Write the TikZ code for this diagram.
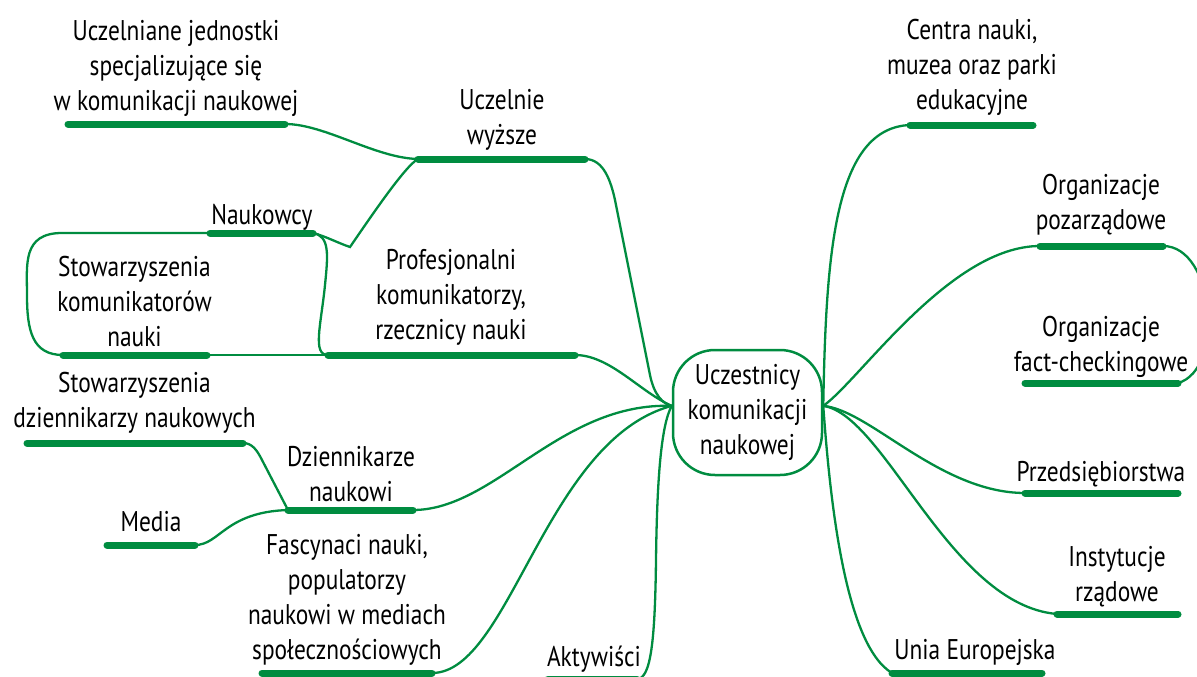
\documentclass[tikz,border=0pt]{standalone}
\usepackage{fontspec}
\setmainfont{PT Sans}[FakeStretch=0.82]
\definecolor{mmgreen}{RGB}{0,140,64}
\begin{document}
\begin{tikzpicture}[x=1pt,y=-1pt,
  bar/.style={line width=7pt,line cap=round,draw=mmgreen},
  link/.style={line width=2.3pt,draw=mmgreen},
  lbl/.style={anchor=south,inner sep=0pt,align=center,font=\fontsize{28.5}{35}\selectfont,execute at end node=\strut},
  hub/.style={draw=mmgreen,line width=2.5pt,rounded corners=42pt,minimum width=149pt,minimum height=125pt,inner sep=0pt,align=center,font=\fontsize{28.5}{35}\selectfont}]
\useasboundingbox (0,0) rectangle (1197,677);
\clip (0,0) rectangle (1197,677);

% hub
\node[hub] (c) at (747.5,412.5) {Uczestnicy\\komunikacji\\naukowej};

% bar end coordinates
\coordinate (jednL) at (68,124);   \coordinate (jednR) at (285,124);
\coordinate (uczL) at (418,159);   \coordinate (uczR) at (585,159);
\coordinate (naukL) at (210,233);  \coordinate (naukR) at (313,233);
\coordinate (skomL) at (63,355);   \coordinate (skomR) at (207,355);
\coordinate (profL) at (328,355);  \coordinate (profR) at (575,355);
\coordinate (sdzL) at (27,443);    \coordinate (sdzR) at (243,443);
\coordinate (dzL) at (288,510);    \coordinate (dzR) at (413,510);
\coordinate (mediaL) at (107,545); \coordinate (mediaR) at (195,545);
\coordinate (fascL) at (262,673);  \coordinate (fascR) at (432,673);
\coordinate (aktL) at (548,679);   \coordinate (aktR) at (637,679);
\coordinate (centraL) at (910,125);\coordinate (centraR) at (1033,125);
\coordinate (npoL) at (1040,246);  \coordinate (npoR) at (1163,246);
\coordinate (factL) at (1025,383); \coordinate (factR) at (1178,383);
\coordinate (przedL) at (1025,493);\coordinate (przedR) at (1178,493);
\coordinate (instL) at (1057,614); \coordinate (instR) at (1178,614);
\coordinate (ueL) at (892,673);    \coordinate (ueR) at (1042,673);

% connectors (left)
\draw[link] (jednR) .. controls (325,124) and (375,158) .. (uczL);
\draw[link] (uczL) .. controls (405,166) and (370,218) .. (350,247) .. controls (338,243) and (325,236) .. (naukR);
\draw[link] (naukR) .. controls (330,236) and (328,255) .. (325,285) .. controls (321,325) and (312,355) .. (profL);
\draw[link] (naukL) -- (62,233) .. controls (22,233) and (27,265) .. (27,295) .. controls (27,330) and (32,355) .. (skomL);
\draw[link] (skomR) -- (profL);
\draw[link] (profR) .. controls (610,355) and (640,392) .. (c.175);
\draw[link] (uczR) .. controls (604,159) and (611,182) .. (615,200) -- (650,375) .. controls (654,395) and (663,404) .. (c.175);
\draw[link] (dzR) .. controls (495,510) and (560,402) .. (c.175);
\draw[link] (fascR) .. controls (510,673) and (545,440) .. (c.175);
\draw[link] (aktR) .. controls (651,679) and (655,640) .. (656,560) .. controls (657,480) and (661,425) .. (c.175);
\draw[link] (sdzR) .. controls (252,443) and (257,450) .. (262,460) -- (dzL);
\draw[link] (mediaR) .. controls (220,545) and (225,512) .. (dzL);

% connectors (right)
\draw[link] (c.5) .. controls (826,250) and (835,128) .. (centraL);
\draw[link] (c.5) .. controls (860,380) and (950,246) .. (npoL);
\draw[link] (npoR) .. controls (1215,246) and (1225,370) .. (factR);
\draw[link] (c.5) .. controls (870,410) and (940,493) .. (przedL);
\draw[link] (c.5) .. controls (885,415) and (950,605) .. (instL);
\draw[link] (c.5) .. controls (830,500) and (845,645) .. (ueL);

% bars
\foreach \b in {jedn,ucz,nauk,skom,prof,sdz,dz,media,fasc,akt,centra,npo,fact,przed,inst,ue}
  \draw[bar] (\b L) -- (\b R);

% labels
\node[lbl] (jednT) at (176,121.5) {Uczelniane jednostki\\specjalizujące się\\w komunikacji naukowej};
\node[lbl] (uczT) at (502,155.5) {Uczelnie\\wyższe};
\node[lbl] (naukT) at (262,235.5) {Naukowcy};
\node[lbl] (skomT) at (134.5,357.5) {Stowarzyszenia\\komunikatorów\\nauki};
\node[lbl] (profT) at (451,350.5) {Profesjonalni\\komunikatorzy,\\rzecznicy nauki};
\node[lbl] (sdzT) at (134.5,438.5) {Stowarzyszenia\\dziennikarzy naukowych};
\node[lbl] (dzT) at (351,512.5) {Dziennikarze\\naukowi};
\node[lbl] (mediaT) at (151,542.5) {Media};
\node[lbl] (fascT) at (347,670.5) {Fascynaci nauki,\\populatorzy\\naukowi w mediach\\społecznościowych};
\node[lbl] (aktT) at (594,677.5) {Aktywiści};
\node[lbl] (centraT) at (972,120.5) {Centra nauki,\\muzea oraz parki\\edukacyjne};
\node[lbl] (npoT) at (1101,240.5) {Organizacje\\pozarządowe};
\node[lbl] (factT) at (1101,382.5) {Organizacje\\fact-checkingowe};
\node[lbl] (przedT) at (1101,492.5) {Przedsiębiorstwa};
\node[lbl] (instT) at (1117,612.5) {Instytucje\\rządowe};
\node[lbl] (ueT) at (975,670.5) {Unia Europejska};
\end{tikzpicture}
\end{document}
